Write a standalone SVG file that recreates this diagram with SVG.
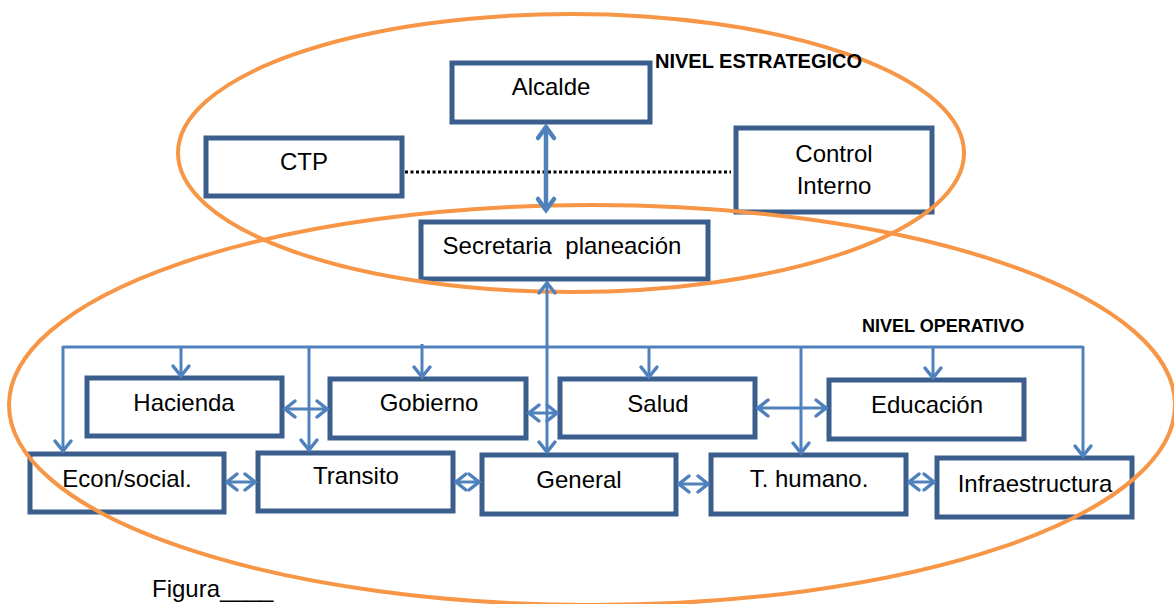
<svg xmlns="http://www.w3.org/2000/svg" width="1174" height="604" viewBox="0 0 1174 604">
<style>
.box{fill:#fff;stroke:#3B5E8C;stroke-width:5}
.t{font-family:"Liberation Sans",Arial,sans-serif;font-size:24px;fill:#000;text-anchor:middle}
.lbl{font-family:"Liberation Sans",Arial,sans-serif;font-weight:bold;fill:#000}
.ell{fill:none;stroke:#F79646;stroke-width:4}
.c{fill:none;stroke:#4F81BD;stroke-width:3}
.a{fill:none;stroke:#4F81BD;stroke-width:3;marker-end:url(#ah)}
.da{fill:none;stroke:#4F81BD;stroke-width:3;marker-start:url(#ah);marker-end:url(#ah)}
.dab{fill:none;stroke:#4F81BD;stroke-width:4.5;marker-start:url(#ahb);marker-end:url(#ahb)}
</style>
<defs>
<marker id="ah" markerUnits="userSpaceOnUse" markerWidth="22" markerHeight="22" viewBox="0 0 22 22" refX="16" refY="11" orient="auto-start-reverse">
<path d="M5,3 L15,11 L5,19" fill="none" stroke="#4F81BD" stroke-width="3.5" stroke-linecap="round" stroke-linejoin="miter"/>
</marker>
<marker id="ahb" markerUnits="userSpaceOnUse" markerWidth="24" markerHeight="24" viewBox="0 0 24 24" refX="18" refY="12" orient="auto-start-reverse">
<path d="M6,4 L17,12 L6,20" fill="none" stroke="#4F81BD" stroke-width="4.5" stroke-linecap="round" stroke-linejoin="miter"/>
</marker>
</defs>
<rect width="1174" height="604" fill="#fff"/>
<g id="alcalde"><rect class="box" x="452" y="63" width="198" height="59"/><text class="t" x="551" y="95">Alcalde</text></g>
<g id="ctp"><rect class="box" x="206" y="138" width="196" height="58"/><text class="t" x="304" y="170">CTP</text></g>
<g id="control"><rect class="box" x="736" y="128" width="196" height="84"/><text class="t" x="834" y="162">Control</text><text class="t" x="834" y="194">Interno</text></g>
<g id="secretaria"><rect class="box" x="421" y="222" width="287" height="57"/><text class="t" x="562" y="254" xml:space="preserve">Secretaria  planeación</text></g>
<g id="hacienda"><rect class="box" x="87" y="378" width="195" height="58"/><text class="t" x="184" y="411">Hacienda</text></g>
<g id="gobierno"><rect class="box" x="330" y="379" width="196" height="59"/><text class="t" x="429" y="411">Gobierno</text></g>
<g id="salud"><rect class="box" x="560" y="379" width="195" height="58"/><text class="t" x="658" y="412">Salud</text></g>
<g id="educacion"><rect class="box" x="829" y="380" width="195" height="59"/><text class="t" x="927" y="413">Educación</text></g>
<g id="econ"><rect class="box" x="30" y="454" width="194" height="58"/><text class="t" x="127" y="487">Econ/social.</text></g>
<g id="transito"><rect class="box" x="258" y="453" width="195" height="58"/><text class="t" x="356" y="484">Transito</text></g>
<g id="general"><rect class="box" x="482" y="455" width="194" height="59"/><text class="t" x="579" y="488">General</text></g>
<g id="thumano"><rect class="box" x="711" y="455" width="195" height="59"/><text class="t" x="809" y="487">T. humano.</text></g>
<g id="infra"><rect class="box" x="937" y="458" width="195" height="59"/><text class="t" x="1035" y="492">Infraestructura</text></g>
<g id="niveles">
<ellipse class="ell" cx="571" cy="153" rx="393" ry="139"/>
<ellipse class="ell" cx="592" cy="405" rx="583" ry="200"/>
<text class="lbl" x="655" y="68" font-size="20">NIVEL ESTRATEGICO</text>
<text class="lbl" x="862" y="332" font-size="18">NIVEL OPERATIVO</text>
</g>
<g id="connectors">
<line x1="405" y1="172" x2="731" y2="172" stroke="#000" stroke-width="3" stroke-dasharray="3 2.5"/>
<line class="dab" x1="546" y1="126" x2="546" y2="211"/>
<line class="da" x1="547" y1="282" x2="547" y2="453"/>
<line class="c" x1="63" y1="347" x2="1083" y2="347"/>
<line class="a" x1="63" y1="346" x2="63" y2="452"/>
<line class="a" x1="181" y1="347" x2="181" y2="377"/>
<line class="a" x1="309" y1="347" x2="309" y2="451"/>
<line class="a" x1="422" y1="344" x2="422" y2="378"/>
<line class="a" x1="649" y1="347" x2="649" y2="378"/>
<line class="a" x1="801" y1="347" x2="801" y2="454"/>
<line class="a" x1="933" y1="347" x2="933" y2="379"/>
<line class="a" x1="1083" y1="346" x2="1083" y2="457"/>
<line class="da" x1="284" y1="409" x2="328" y2="409"/>
<line class="da" x1="528" y1="413" x2="558" y2="413"/>
<line class="da" x1="757" y1="408" x2="827" y2="408"/>
<line class="da" x1="226" y1="482" x2="256" y2="482"/>
<line class="da" x1="455" y1="482" x2="480" y2="482"/>
<line class="da" x1="678" y1="484" x2="709" y2="484"/>
<line class="da" x1="908" y1="482" x2="935" y2="482"/>
</g>
<text x="152" y="597" font-family="Liberation Sans, Arial, sans-serif" font-size="24" fill="#000">Figura____</text>
</svg>
